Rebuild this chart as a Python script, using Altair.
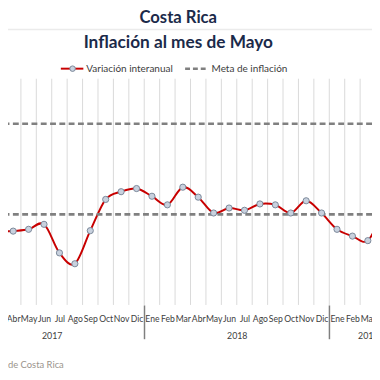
import json
import altair as alt
import pandas as pd

# ---- data ----
MESES = ["Ene", "Feb", "Mar", "Abr", "May", "Jun", "Jul", "Ago", "Sep", "Oct", "Nov", "Dic"]
ANIOS = ["2017", "2018", "2019"]
# month index: Ene 2017 = 0 ... May 2019 = 28
IDX = list(range(0, 29))
INFL = [1.20, 1.35, 1.60, 1.63, 1.67, 1.78, 1.15, 0.91, 1.64, 2.33, 2.50, 2.57,
        2.40, 2.21, 2.60, 2.38, 2.03, 2.14, 2.09, 2.23, 2.21, 2.03, 2.30, 2.03,
        1.67, 1.52, 1.42, 2.05, 2.40]
META = [4.0, 2.0]
TITULO = "Costa Rica"
SUBTITULO = "Inflación al mes de Mayo"
SERIE = "Variación interanual"
SERIE_META = "Meta de inflación"
FUENTE = "Fuente: Banco Central de Costa Rica"

W, H = 372, 231.5
XDOM = [2.664, 26.27]
NAVY = "#1B2A4A"
GRID = "#D9D9D9"
FONT = "Lato"
TXT = "#404040"

df = pd.DataFrame({"i": IDX, "v": INFL})
meta_df = pd.DataFrame({"meta": META})
# month boundaries (between consecutive months)
vgrid_df = pd.DataFrame({"b": [i - 0.5 for i in IDX] + [IDX[-1] + 0.5]})

xscale = alt.Scale(domain=XDOM, nice=False, zero=False)
yscale = alt.Scale(domain=[0, 5], nice=False, zero=False)

yaxis = alt.Axis(values=[0, 1, 2, 3, 4, 5], grid=True, gridColor=GRID, gridWidth=1,
                 labels=False, ticks=False, domain=False, title=None)

month_expr = json.dumps(MESES) + "[datum.value % 12]"
month_axis = alt.Axis(values=IDX, labelExpr=month_expr, grid=False, ticks=False,
                      domain=False, labelPadding=10, labelFontSize=8.8, labelFont=FONT,
                      labelColor=TXT, labelFlush=False, labelOverlap=False,
                      title=None, orient="bottom")
year_expr = json.dumps(ANIOS) + "[floor(datum.value / 12)]"
year_axis = alt.Axis(values=[5.5, 17.5, 26], labelExpr=year_expr, grid=False, ticks=False,
                     domain=False, labelPadding=27, labelFontSize=9, labelFont=FONT,
                     labelColor=TXT, labelFlush=False, labelOverlap=False,
                     title=None, orient="bottom")
sep_axis = alt.Axis(values=[11.5, 23.5], grid=False, ticks=True, tickSize=34.5,
                    tickColor="#7F7F7F", tickWidth=1.5, labels=False, domain=False,
                    title=None, orient="bottom")

base = alt.Chart(df)

vgrid = alt.Chart(vgrid_df).mark_rule(color=GRID, strokeWidth=1, clip=True).encode(
    x=alt.X("b:Q", scale=xscale, axis=None),
)
line = base.mark_line(color="#C80000", strokeWidth=2, interpolate="cardinal", clip=True).encode(
    x=alt.X("i:Q", scale=xscale, axis=None),
    y=alt.Y("v:Q", scale=yscale, axis=yaxis),
)
pts = base.mark_circle(size=40, color="#C8D1DE", stroke="#7A8799", strokeWidth=1,
                       opacity=1, clip=True).encode(
    x=alt.X("i:Q", scale=xscale, axis=month_axis),
    y=alt.Y("v:Q", scale=yscale, axis=None),
)
inv_year = base.mark_circle(opacity=0, size=1, clip=True).encode(
    x=alt.X("i:Q", scale=xscale, axis=year_axis),
    y=alt.Y("v:Q", scale=yscale, axis=None),
)
inv_sep = base.mark_circle(opacity=0, size=1, clip=True).encode(
    x=alt.X("i:Q", scale=xscale, axis=sep_axis),
    y=alt.Y("v:Q", scale=yscale, axis=None),
)
meta = alt.Chart(meta_df).mark_rule(color="#808080", strokeWidth=2.7,
                                    strokeDash=[6, 3.5]).encode(
    y=alt.Y("meta:Q", scale=yscale, axis=None)
)


def one(text):
    return alt.Chart(pd.DataFrame({"t": [text]}))


t1 = one(TITULO).mark_text(font=FONT, fontSize=17, fontWeight="bold", color=NAVY,
                           align="center", baseline="middle").encode(
    text="t:N", x=alt.value(174), y=alt.value(-62))
t2 = one(SUBTITULO).mark_text(font=FONT, fontSize=17.6, fontWeight="bold", color=NAVY,
                              align="center", baseline="middle").encode(
    text="t:N", x=alt.value(174), y=alt.value(-36))
sepline = one("").mark_rule(color="#EBEBEB", strokeWidth=1.5).encode(
    x=alt.value(0), x2=alt.value(W), y=alt.value(-50))

leg_line = one(SERIE).mark_rule(color="#C80000", strokeWidth=2).encode(
    x=alt.value(54), x2=alt.value(77), y=alt.value(-10))
leg_pt = one(SERIE).mark_circle(size=32, color="#C8D1DE", stroke="#7A8799", strokeWidth=1,
                                opacity=1).encode(x=alt.value(66), y=alt.value(-10))
leg_t1 = one(SERIE).mark_text(font=FONT, fontSize=10.2, color=TXT, align="left",
                              baseline="middle").encode(
    text="t:N", x=alt.value(80), y=alt.value(-10))
leg_dash = one(SERIE_META).mark_rule(color="#808080", strokeWidth=2.5,
                                     strokeDash=[5, 3]).encode(
    x=alt.value(181), x2=alt.value(204), y=alt.value(-10))
leg_t2 = one(SERIE_META).mark_text(font=FONT, fontSize=10.2, color=TXT, align="left",
                                   baseline="middle").encode(
    text="t:N", x=alt.value(208), y=alt.value(-10))
fuente = one(FUENTE).mark_text(font=FONT, fontSize=9.6, color="#9A948C", align="right",
                               baseline="middle").encode(
    text="t:N", x=alt.value(57), y=alt.value(293))

chart = alt.layer(
    vgrid, line, meta, pts, inv_year, inv_sep,
    t1, t2, sepline, leg_line, leg_pt, leg_t1, leg_dash, leg_t2, fuente,
).resolve_axis(x="independent").properties(
    width=W, height=H,
    autosize=alt.AutoSizeParams(type="none"),
    padding={"left": 0, "top": 68, "right": 0, "bottom": 64},
).configure_view(stroke=None)

chart.save("out.html", embed_options={"renderer": "svg", "actions": False})
